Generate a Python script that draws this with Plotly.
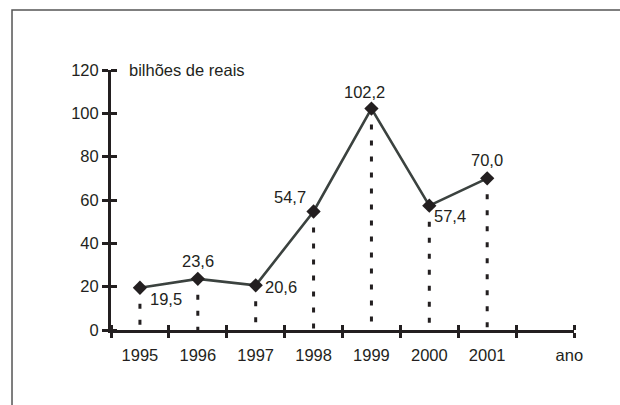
import plotly.graph_objects as go

# ---- data ----
years = [1995, 1996, 1997, 1998, 1999, 2000, 2001]
values = [19.5, 23.6, 20.6, 54.7, 102.2, 57.4, 70.0]
year_labels = ["1995", "1996", "1997", "1998", "1999", "2000", "2001"]
y_ticks = [0, 20, 40, 60, 80, 100, 120]
y_title = "bilhões de reais"
x_title = "ano"

# ---- styles ----
FONT = "Liberation Sans, Arial, sans-serif"
FS = 16.5
INK = "#231f20"
LINE = "#3b423f"
EPS = 1e-6
# label offsets (px) relative to each marker: (xshift, yshift)
label_offsets = [(26, -11), (0, 18), (25, -2), (-24, 14), (-7, 17), (21, -10), (0, 18)]

labels = [f"{v:.1f}".replace(".", ",") for v in values]
bounds = [years[0] - 0.5 + i for i in range(len(years) + 2)]
x_range = [bounds[0], bounds[-1]]
y_range = [y_ticks[0], y_ticks[-1]]

# dashed drop lines
drop_x, drop_y = [], []
for yr, v in zip(years, values):
    drop_x += [yr, yr, None]
    drop_y += [v, 0, None]

fig = go.Figure()
fig.add_trace(go.Scatter(x=drop_x, y=drop_y, mode="lines",
                         line=dict(color=INK, width=3, dash="5px,11px"),
                         hoverinfo="skip", showlegend=False))
# invisible helper on x3 (year labels axis)
fig.add_trace(go.Scatter(x=years, y=values, mode="markers", xaxis="x3", yaxis="y",
                         marker=dict(opacity=0), hoverinfo="skip", showlegend=False))
fig.add_trace(go.Scatter(x=years, y=values, mode="lines+markers",
                         line=dict(color=LINE, width=2.6),
                         marker=dict(symbol="diamond", size=11, color=INK),
                         showlegend=False))

for yr, v, t, (dx, dy) in zip(years, values, labels, label_offsets):
    fig.add_annotation(x=yr, y=v, text=t, showarrow=False,
                       xshift=dx, yshift=dy,
                       font=dict(family=FONT, size=FS, color=INK))

fig.add_annotation(xref="paper", x=0, y=y_ticks[-1], xshift=16, text=y_title,
                   xanchor="left", showarrow=False,
                   font=dict(family=FONT, size=FS, color=INK))

fig.update_layout(
    width=620, height=405,
    margin=dict(l=111, r=46, t=70, b=75),
    paper_bgcolor="white", plot_bgcolor="white",
    font=dict(family=FONT, size=FS, color=INK),
    xaxis=dict(range=x_range, tickvals=bounds, showticklabels=False,
               ticks="outside", ticklen=5, tickwidth=3, tickcolor=INK,
               minor=dict(tickmode="array", tickvals=[b + EPS for b in bounds],
                          ticks="inside", ticklen=5, tickwidth=3, tickcolor=INK,
                          showgrid=False),
               showline=True, linecolor=INK, linewidth=3,
               showgrid=False, zeroline=False),
    xaxis3=dict(range=x_range, overlaying="x", anchor="y", side="bottom",
                tickvals=years + [bounds[-1] - 0.08], ticktext=year_labels + [x_title],
                ticks="", ticklabelstandoff=13,
                showline=False, showgrid=False, zeroline=False,
                tickfont=dict(family=FONT, size=FS, color=INK)),
    yaxis=dict(range=y_range, tickvals=y_ticks,
               ticks="outside", ticklen=6, tickwidth=3, tickcolor=INK,
               minor=dict(tickmode="array", tickvals=[t + EPS for t in y_ticks],
                          ticks="inside", ticklen=6, tickwidth=3, tickcolor=INK,
                          showgrid=False),
               showline=True, linecolor=INK, linewidth=3,
               showgrid=False, zeroline=False,
               tickfont=dict(family=FONT, size=FS, color=INK)),
    shapes=[dict(type="path", xref="paper", yref="paper",
                 path="M -0.2138,-0.5 L -0.2138,1.2308 L 1.4,1.2308",
                 line=dict(color="#555555", width=1.5), layer="below")],
)

fig.write_html("out.html", config={"displayModeBar": False},
               post_script=("document.documentElement.style.overflow='hidden';"
                            "document.body.style.margin='0px';"
                            "document.body.style.overflow='hidden';"))
